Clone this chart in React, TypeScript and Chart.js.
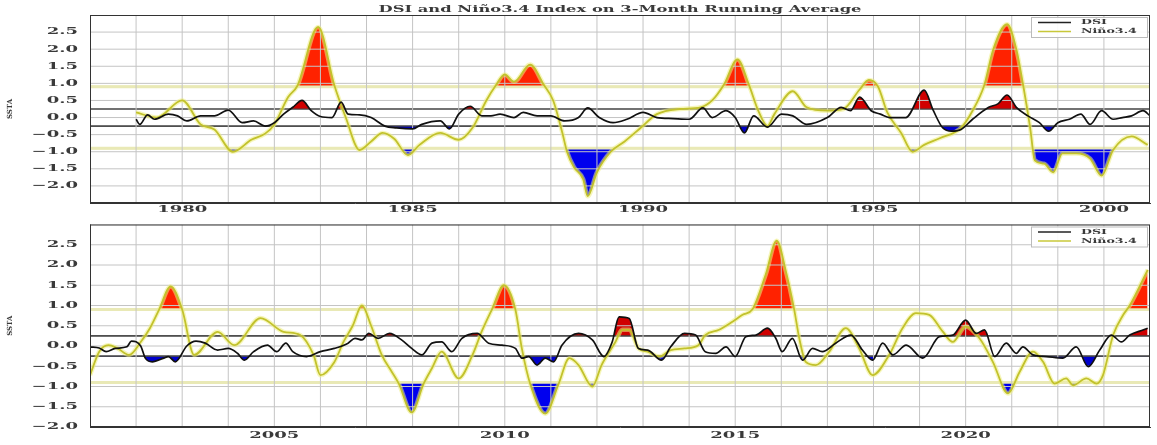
import React, { useEffect, useRef } from 'react';
import { Chart, registerables } from 'chart.js';

Chart.register(...registerables);

const TITLE = 'DSI and Niño3.4 Index on 3-Month Running Average';
const Y_LABEL = 'SSTA';
const DSI_NAME = 'DSI';
const NINO_NAME = 'Niño3.4';

const TOP_X_RANGE = [1978, 2001];
const BOTTOM_X_RANGE = [2001, 2024];
const TOP_Y_RANGE = [-2.5, 3.0];
const BOTTOM_Y_RANGE = [-2.0, 3.0];
const Y_LABEL_RANGE = [-2.0, 2.5];
const Y_STEP = 0.5;
const X_STEP = 1;
const X_LABEL_EVERY = 5;
const DSI_THRESHOLD = 0.25;
const NINO_THRESHOLD = 0.9;

// ---------- top panel (1979-2001) ----------
const topNinoYears = [
  1979.0, 1979.45, 1980.0, 1980.4, 1980.7, 1981.1, 1981.5, 1981.8, 1982.0, 1982.3,
  1982.5, 1982.95, 1983.3, 1983.55, 1983.85, 1984.1, 1984.35, 1984.6, 1984.9, 1985.15,
  1985.6, 1986.0, 1986.3, 1986.6, 1986.8, 1987.0, 1987.2, 1987.55, 1987.85, 1988.05,
  1988.25, 1988.35, 1988.5, 1988.7, 1988.8, 1989.0, 1989.3, 1989.6, 1989.95, 1990.3,
  1990.8, 1991.25, 1991.5, 1991.75, 1992.05, 1992.3, 1992.5, 1992.7, 1992.85, 1993.25,
  1993.55, 1994.0, 1994.35, 1994.7, 1994.9, 1995.1, 1995.3, 1995.6, 1995.85, 1996.1,
  1996.45, 1996.9, 1997.15, 1997.4, 1997.6, 1997.9, 1998.1, 1998.25, 1998.4, 1998.5,
  1998.7, 1998.9, 1999.1, 1999.4, 1999.7, 1999.95, 2000.2, 2000.6, 2000.95,
];
const topNinoValues = [
  0.15, 0.0, 0.5, -0.2, -0.35, -1.0, -0.65, -0.47, -0.2, 0.6,
  0.93, 2.65, 0.95, 0.0, -0.95, -0.7, -0.45, -0.62, -1.1, -0.8,
  -0.45, -0.65, -0.3, 0.5, 0.93, 1.26, 1.05, 1.55, 0.95, 0.5,
  -0.45, -1.0, -1.45, -1.8, -2.3, -1.6, -1.0, -0.7, -0.3, 0.1,
  0.25, 0.3, 0.5, 0.95, 1.7, 0.95, 0.2, -0.25, 0.1, 0.77,
  0.3, 0.2, 0.25, 0.82, 1.1, 0.9, 0.15, -0.45, -1.0, -0.8,
  -0.6, -0.3, 0.2, 0.93, 2.0, 2.73, 2.0, 0.93, -0.3, -1.25,
  -1.35, -1.6, -1.05, -1.05, -1.2, -1.7, -0.95, -0.55, -0.8,
];
const topDsiYears = [
  1979.0, 1979.08, 1979.25, 1979.4, 1979.7, 1979.9, 1980.1, 1980.4, 1980.7, 1981.0,
  1981.3, 1981.55, 1981.8, 1982.0, 1982.2, 1982.4, 1982.6, 1982.8, 1983.0, 1983.25,
  1983.45, 1983.6, 1983.85, 1984.1, 1984.4, 1984.65, 1985.0, 1985.2, 1985.6, 1985.8,
  1986.0, 1986.25, 1986.5, 1986.7, 1986.9, 1987.2, 1987.4, 1987.7, 1988.0, 1988.3,
  1988.6, 1988.8, 1989.05, 1989.35, 1989.65, 1990.0, 1990.3, 1990.65, 1991.0, 1991.3,
  1991.5, 1991.8, 1992.0, 1992.2, 1992.4, 1992.7, 1993.0, 1993.25, 1993.55, 1994.0,
  1994.3, 1994.5, 1994.7, 1994.95, 1995.15, 1995.35, 1995.7, 1996.1, 1996.3, 1996.5,
  1996.7, 1996.9, 1997.15, 1997.5, 1997.7, 1997.9, 1998.1, 1998.35, 1998.6, 1998.8,
  1999.0, 1999.25, 1999.5, 1999.7, 1999.95, 2000.2, 2000.4, 2000.6, 2000.85, 2001.0,
];
const topDsiValues = [
  -0.05, -0.2, 0.08, -0.05, 0.1, 0.05, -0.1, 0.05, 0.05, 0.22,
  -0.15, -0.1, -0.25, -0.15, 0.1, 0.3, 0.5, 0.2, 0.03, 0.0,
  0.45, 0.1, 0.08, 0.0, -0.25, -0.3, -0.33, -0.2, -0.1, -0.33,
  0.1, 0.33, 0.05, 0.05, 0.1, 0.0, 0.15, 0.05, 0.05, -0.1,
  0.0, 0.28, 0.0, -0.15, -0.05, 0.15, 0.0, -0.03, -0.05, 0.28,
  0.0, 0.2, 0.0, -0.45, 0.05, -0.28, 0.1, 0.05, -0.2, 0.0,
  0.3, 0.2, 0.6, 0.2, 0.1, 0.0, 0.0, 0.8, 0.2, -0.3,
  -0.4, -0.35, -0.05, 0.3, 0.4, 0.66, 0.3, 0.05, -0.15, -0.4,
  -0.15, -0.05, 0.1, -0.2, 0.2, -0.05, 0.0, 0.05, 0.2, 0.05,
];

// ---------- bottom panel (2001-2024) ----------
const bottomNinoYears = [
  2001.0, 2001.2, 2001.4, 2001.6, 2001.85, 2002.1, 2002.3, 2002.5, 2002.75, 2003.0,
  2003.26, 2003.77, 2004.13, 2004.7, 2005.2, 2005.56, 2005.85, 2006.0, 2006.3, 2006.5,
  2006.7, 2006.9, 2007.1, 2007.33, 2007.55, 2007.7, 2007.98, 2008.24, 2008.42, 2008.63,
  2009.0, 2009.3, 2009.5, 2009.72, 2009.98, 2010.23, 2010.37, 2010.55, 2010.88, 2011.17,
  2011.4, 2011.6, 2011.9, 2012.1, 2012.4, 2012.55, 2012.7, 2012.9, 2013.1, 2013.35,
  2013.6, 2013.9, 2014.2, 2014.35, 2014.65, 2014.94, 2015.16, 2015.37, 2015.66, 2015.9,
  2016.1, 2016.28, 2016.39, 2016.53, 2016.75, 2017.04, 2017.4, 2017.69, 2017.98, 2018.34,
  2018.63, 2018.92, 2019.21, 2019.5, 2019.72, 2020.0, 2020.3, 2020.59, 2020.92, 2021.17,
  2021.46, 2021.68, 2021.93, 2022.18, 2022.33, 2022.62, 2022.84, 2022.98, 2023.2, 2023.42,
  2023.56, 2023.95,
];
const bottomNinoValues = [
  -0.72, -0.14, 0.02, -0.06, -0.22, 0.1, 0.44, 0.9, 1.47, 0.9,
  -0.22, 0.35, 0.02, 0.69, 0.35, 0.27, -0.22, -0.72, -0.4, 0.1,
  0.5, 1.0, 0.5, -0.22, -0.64, -0.93, -1.64, -0.93, -0.55, -0.14,
  -0.8, -0.22, 0.36, 0.9, 1.5, 0.9, -0.06, -0.93, -1.67, -0.93,
  -0.3, -0.47, -1.0, -0.47, 0.1, 0.4, 0.4, -0.06, -0.14, -0.26,
  -0.1, -0.06, 0.02, 0.27, 0.4, 0.6, 0.77, 0.9, 1.76, 2.6,
  1.84, 0.9, 0.19, -0.39, -0.47, -0.14, 0.44, -0.06, -0.72, -0.22,
  0.44, 0.81, 0.77, 0.36, 0.1, 0.48, 0.19, -0.39, -1.17, -0.64,
  -0.14, -0.39, -0.93, -0.8, -0.97, -0.8, -0.93, -0.72, 0.27, 0.77,
  1.0, 1.88,
];
const bottomDsiYears = [
  2001.0, 2001.2, 2001.35, 2001.55, 2001.8, 2001.9, 2002.1, 2002.2, 2002.35, 2002.6,
  2002.7, 2002.85, 2003.1, 2003.3, 2003.5, 2003.77, 2004.0, 2004.2, 2004.35, 2004.55,
  2004.85, 2005.05, 2005.25, 2005.4, 2005.7, 2006.0, 2006.3, 2006.6, 2006.75, 2006.9,
  2007.05, 2007.25, 2007.5, 2007.76, 2007.98, 2008.2, 2008.42, 2008.63, 2008.85, 2009.07,
  2009.4, 2009.65, 2009.94, 2010.23, 2010.37, 2010.52, 2010.7, 2010.88, 2011.06, 2011.24,
  2011.6, 2011.9, 2012.15, 2012.33, 2012.48, 2012.7, 2012.9, 2013.1, 2013.4, 2013.6,
  2013.9, 2014.14, 2014.35, 2014.58, 2014.8, 2015.0, 2015.23, 2015.45, 2015.7, 2015.88,
  2016.02, 2016.24, 2016.46, 2016.68, 2016.89, 2017.18, 2017.51, 2017.76, 2017.98, 2018.2,
  2018.42, 2018.71, 2019.07, 2019.43, 2019.72, 2020.0, 2020.23, 2020.41, 2020.63, 2020.88,
  2021.1, 2021.24, 2021.46, 2021.75, 2022.11, 2022.4, 2022.66, 2022.91, 2023.16, 2023.38,
  2023.56, 2023.86, 2023.95,
];
const bottomDsiValues = [
  -0.02, -0.05, -0.14, -0.06, -0.02, 0.12, 0.0, -0.3, -0.39, -0.3,
  -0.26, -0.39, 0.0, 0.12, 0.07, -0.1, -0.06, -0.18, -0.35, -0.14,
  0.02, -0.14, 0.07, -0.14, -0.26, -0.14, -0.06, 0.07, 0.19, 0.15,
  0.31, 0.19, 0.31, 0.15, -0.06, -0.22, 0.07, 0.1, -0.14, 0.19,
  0.31, 0.07, 0.02, -0.06, -0.3, -0.26, -0.47, -0.3, -0.39, 0.02,
  0.31, 0.15, -0.26, 0.1, 0.72, 0.68, -0.06, -0.1, -0.35, -0.02,
  0.31, 0.27, -0.14, -0.18, -0.02, -0.26, 0.23, 0.27, 0.44, 0.19,
  -0.14, 0.19, -0.35, -0.06, -0.14, 0.07, 0.27, -0.1, -0.35, 0.07,
  -0.22, 0.02, -0.3, 0.23, 0.27, 0.64, 0.31, 0.4, -0.26, 0.07,
  -0.18, -0.02, -0.22, -0.26, -0.3, -0.02, -0.51, -0.1, 0.27, 0.1,
  0.27, 0.4, 0.44,
];

const FONT = '"DejaVu Serif", "Liberation Serif", serif';
const TRANSPARENT = 'rgba(0,0,0,0)';
const TEXT_COLOR = '#3a3a3a';
const NINO_LINE_COLOR = '#e9e9b6';
const DSI_LINE_COLOR = '#444';
const GRID_COLOR = '#c4c4c4';

const toPoints = (xs: number[], ys: number[]) => xs.map((x, i) => ({ x, y: ys[i] }));
const fmt = (v: number) => (v < 0 ? '\u2212' + Math.abs(v).toFixed(1) : v.toFixed(1));
const stepsBetween = (lo: number, hi: number, step: number) => {
  const out: number[] = [];
  const n = Math.round((hi - lo) / step);
  for (let i = 0; i <= n; i++) out.push(Math.round((lo + i * step) * 100) / 100);
  return out;
};

function drawStretched(ctx: CanvasRenderingContext2D, text: string, px: number, py: number, sx: number) {
  ctx.save();
  ctx.translate(px, py);
  ctx.scale(sx, 1);
  ctx.fillText(text, 0, 0);
  ctx.restore();
}

function strokeHLine(chart: any, value: number, color: string, width: number) {
  const { ctx, chartArea: a } = chart;
  const py = chart.scales.y.getPixelForValue(value);
  ctx.save();
  ctx.globalCompositeOperation = 'source-over';
  ctx.globalAlpha = 1;
  ctx.strokeStyle = color;
  ctx.lineWidth = width;
  ctx.beginPath();
  ctx.moveTo(a.left, py);
  ctx.lineTo(a.right, py);
  ctx.stroke();
  ctx.restore();
}

// after the last fill dataset, re-stroke the threshold lines over the fills
const thresholdPlugin = {
  id: 'thresholdRedraw',
  afterDatasetDraw(chart: any, args: any) {
    const ds = chart.data.datasets[args.index];
    if (!ds || !ds.lastFill) return;
    strokeHLine(chart, NINO_THRESHOLD, NINO_LINE_COLOR, 2.5);
    strokeHLine(chart, -NINO_THRESHOLD, NINO_LINE_COLOR, 2.5);
    strokeHLine(chart, DSI_THRESHOLD, DSI_LINE_COLOR, 1.2);
    strokeHLine(chart, -DSI_THRESHOLD, DSI_LINE_COLOR, 1.2);
  },
};

const framePlugin = {
  id: 'frame',
  afterDraw(chart: any) {
    const { ctx, chartArea: a } = chart;
    ctx.save();
    ctx.strokeStyle = '#333';
    ctx.lineWidth = 1;
    ctx.strokeRect(a.left + 0.5, a.top + 0.5, a.right - a.left - 1, a.bottom - a.top - 1);
    ctx.restore();
  },
};

const boxLegendPlugin = {
  id: 'boxLegend',
  afterDraw(chart: any) {
    const { ctx, chartArea: a } = chart;
    const w = 116;
    const h = 20;
    const x0 = a.right - 119;
    const y0 = a.top + 2;
    ctx.save();
    ctx.fillStyle = 'rgba(255,255,255,0.92)';
    ctx.fillRect(x0, y0, w, h);
    ctx.strokeStyle = '#bbb';
    ctx.lineWidth = 1;
    ctx.strokeRect(x0 + 0.5, y0 + 0.5, w, h);
    const items = [
      { name: DSI_NAME, color: '#222', width: 1.5 },
      { name: NINO_NAME, color: '#c8c83a', width: 1.5 },
    ];
    items.forEach((it, i) => {
      const y = y0 + 5.5 + i * 9;
      ctx.strokeStyle = it.color;
      ctx.lineWidth = it.width;
      ctx.beginPath();
      ctx.moveTo(x0 + 7, y);
      ctx.lineTo(x0 + 40, y);
      ctx.stroke();
      ctx.fillStyle = TEXT_COLOR;
      ctx.font = 'bold 7px ' + FONT;
      ctx.textBaseline = 'middle';
      ctx.textAlign = 'left';
      drawStretched(ctx, it.name, x0 + 50, y, 1.8);
    });
    ctx.restore();
  },
};

function makeLabelPlugin(showTitle: boolean, xRange: number[], xLabelOffset: number) {
  return {
    id: 'stretchLabels',
    afterDraw(chart: any) {
      const { ctx, chartArea: a } = chart;
      const xs = chart.scales.x;
      const ys = chart.scales.y;
      ctx.save();
      ctx.fillStyle = TEXT_COLOR;
      ctx.textBaseline = 'middle';
      ctx.font = 'bold 9px ' + FONT;
      ctx.textAlign = 'center';
      stepsBetween(xRange[0], xRange[1], X_STEP).forEach((v) => {
        if (Math.round(v) % X_LABEL_EVERY === 0)
          drawStretched(ctx, String(Math.round(v)), xs.getPixelForValue(v), a.bottom + xLabelOffset, 2.0);
      });
      ctx.textAlign = 'right';
      stepsBetween(Y_LABEL_RANGE[0], Y_LABEL_RANGE[1], Y_STEP).forEach((v) => {
        drawStretched(ctx, fmt(v), a.left - 12, ys.getPixelForValue(v), 2.0);
      });
      if (showTitle) {
        ctx.font = 'bold 9px ' + FONT;
        ctx.textAlign = 'center';
        const w = ctx.measureText(TITLE).width;
        const target = 483;
        drawStretched(ctx, TITLE, (a.left + a.right) / 2, a.top - 5.5, target / w);
      }
      ctx.restore();
    },
  };
}

function makeConfig(panel: {
  ninoYears: number[];
  ninoValues: number[];
  dsiYears: number[];
  dsiValues: number[];
  xRange: number[];
  yRange: number[];
  showTitle: boolean;
  xAxisHeight: number;
  topPad: number;
  xLabelOffset: number;
}) {
  const nino = toPoints(panel.ninoYears, panel.ninoValues);
  const dsi = toPoints(panel.dsiYears, panel.dsiValues);
  const hline = (y: number) => [
    { x: panel.xRange[0], y },
    { x: panel.xRange[1], y },
  ];
  const vline = (x: number) => [
    { x, y: panel.yRange[0] },
    { x, y: panel.yRange[1] },
  ];
  const base = {
    pointRadius: 0,
    pointHoverRadius: 0,
    tension: 0.4,
    cubicInterpolationMode: 'monotone' as const,
  };
  const straight = {
    pointRadius: 0,
    pointHoverRadius: 0,
    tension: 0,
    backgroundColor: TRANSPARENT,
    fill: false,
  };
  const fillSet = (data: any[], value: number, above: string, below: string, order: number, lastFill = false) => ({
    ...base,
    label: '_fill',
    data,
    borderColor: TRANSPARENT,
    backgroundColor: TRANSPARENT,
    borderWidth: 1,
    fill: { target: { value }, above, below },
    order,
    lastFill,
  });
  const gridSets: any[] = [
    ...stepsBetween(panel.xRange[0], panel.xRange[1], X_STEP).map((v) => ({
      ...straight,
      label: '_gridx',
      data: vline(v),
      borderColor: GRID_COLOR,
      borderWidth: 1,
      order: 2.5,
    })),
    ...stepsBetween(panel.yRange[0], panel.yRange[1], Y_STEP).map((v) => ({
      ...straight,
      label: '_gridy',
      data: hline(v),
      borderColor: GRID_COLOR,
      borderWidth: 1,
      order: 2.5,
    })),
  ];
  const datasets: any[] = [
    { ...base, label: DSI_NAME, data: dsi, borderColor: '#111', backgroundColor: TRANSPARENT, borderWidth: 1.7, fill: false, order: 0 },
    { ...base, label: NINO_NAME, data: nino, borderColor: '#c2c22c', backgroundColor: TRANSPARENT, borderWidth: 1.8, fill: false, order: 1 },
    { ...base, label: '_halo', data: nino, borderColor: 'rgba(238,238,130,0.55)', backgroundColor: TRANSPARENT, borderWidth: 4.5, fill: false, order: 2 },
    ...gridSets,
    fillSet(dsi, -DSI_THRESHOLD, TRANSPARENT, '#0000cc', 3, true),
    fillSet(dsi, DSI_THRESHOLD, '#d00000', TRANSPARENT, 4),
    fillSet(nino, -NINO_THRESHOLD, TRANSPARENT, '#0000ee', 5),
    fillSet(nino, NINO_THRESHOLD, '#ff2200', TRANSPARENT, 6),
    { ...straight, label: '_t1', data: hline(DSI_THRESHOLD), borderColor: DSI_LINE_COLOR, borderWidth: 1.2, order: 7 },
    { ...straight, label: '_t2', data: hline(-DSI_THRESHOLD), borderColor: DSI_LINE_COLOR, borderWidth: 1.2, order: 7 },
    { ...straight, label: '_t3', data: hline(NINO_THRESHOLD), borderColor: NINO_LINE_COLOR, borderWidth: 3, order: 8 },
    { ...straight, label: '_t4', data: hline(-NINO_THRESHOLD), borderColor: NINO_LINE_COLOR, borderWidth: 3, order: 8 },
  ];
  return {
    type: 'line' as const,
    data: { datasets },
    options: {
      responsive: false,
      animation: false as const,
      events: [],
      layout: { padding: { left: 0, right: 7, top: panel.topPad, bottom: 0 } },
      plugins: {
        legend: { display: false },
        tooltip: { enabled: false },
        title: { display: false },
        colors: { enabled: false },
      },
      scales: {
        x: {
          type: 'linear' as const,
          min: panel.xRange[0],
          max: panel.xRange[1],
          afterFit: (s: any) => {
            s.height = panel.xAxisHeight;
          },
          grid: { display: false, drawTicks: false },
          border: { color: '#333', width: 1 },
          ticks: { display: false, stepSize: X_STEP },
        },
        y: {
          type: 'linear' as const,
          min: panel.yRange[0],
          max: panel.yRange[1],
          afterFit: (s: any) => {
            s.width = 90;
          },
          grid: { display: false, drawTicks: false },
          border: { color: '#333', width: 1 },
          title: {
            display: true,
            text: Y_LABEL,
            color: TEXT_COLOR,
            font: { family: FONT, size: 7, weight: 'bold' as const },
            padding: { top: 6, bottom: 0 },
          },
          ticks: { display: false, stepSize: Y_STEP },
        },
      },
    },
    plugins: [
      thresholdPlugin,
      framePlugin,
      boxLegendPlugin,
      makeLabelPlugin(panel.showTitle, panel.xRange, panel.xLabelOffset),
    ],
  };
}

function Panel(props: { config: any; width: number; height: number; top: number }) {
  const ref = useRef<HTMLCanvasElement | null>(null);
  useEffect(() => {
    if (!ref.current) return;
    const chart = new Chart(ref.current, props.config);
    return () => chart.destroy();
  }, []);
  return (
    <canvas
      ref={ref}
      width={props.width}
      height={props.height}
      style={{ position: 'absolute', left: 0, top: props.top, width: props.width, height: props.height }}
    />
  );
}

export default function App() {
  const topConfig = makeConfig({
    ninoYears: topNinoYears,
    ninoValues: topNinoValues,
    dsiYears: topDsiYears,
    dsiValues: topDsiValues,
    xRange: TOP_X_RANGE,
    yRange: TOP_Y_RANGE,
    showTitle: true,
    xAxisHeight: 12,
    topPad: 15,
    xLabelOffset: 7,
  });
  const bottomConfig = makeConfig({
    ninoYears: bottomNinoYears,
    ninoValues: bottomNinoValues,
    dsiYears: bottomDsiYears,
    dsiValues: bottomDsiValues,
    xRange: BOTTOM_X_RANGE,
    yRange: BOTTOM_Y_RANGE,
    showTitle: false,
    xAxisHeight: 18,
    topPad: 9.5,
    xLabelOffset: 9,
  });
  return (
    <div style={{ position: 'absolute', left: 0, top: 0, width: 1157, height: 445, background: '#fff' }}>
      <Panel config={topConfig} width={1157} height={215} top={0} />
      <Panel config={bottomConfig} width={1157} height={230} top={215} />
    </div>
  );
}
